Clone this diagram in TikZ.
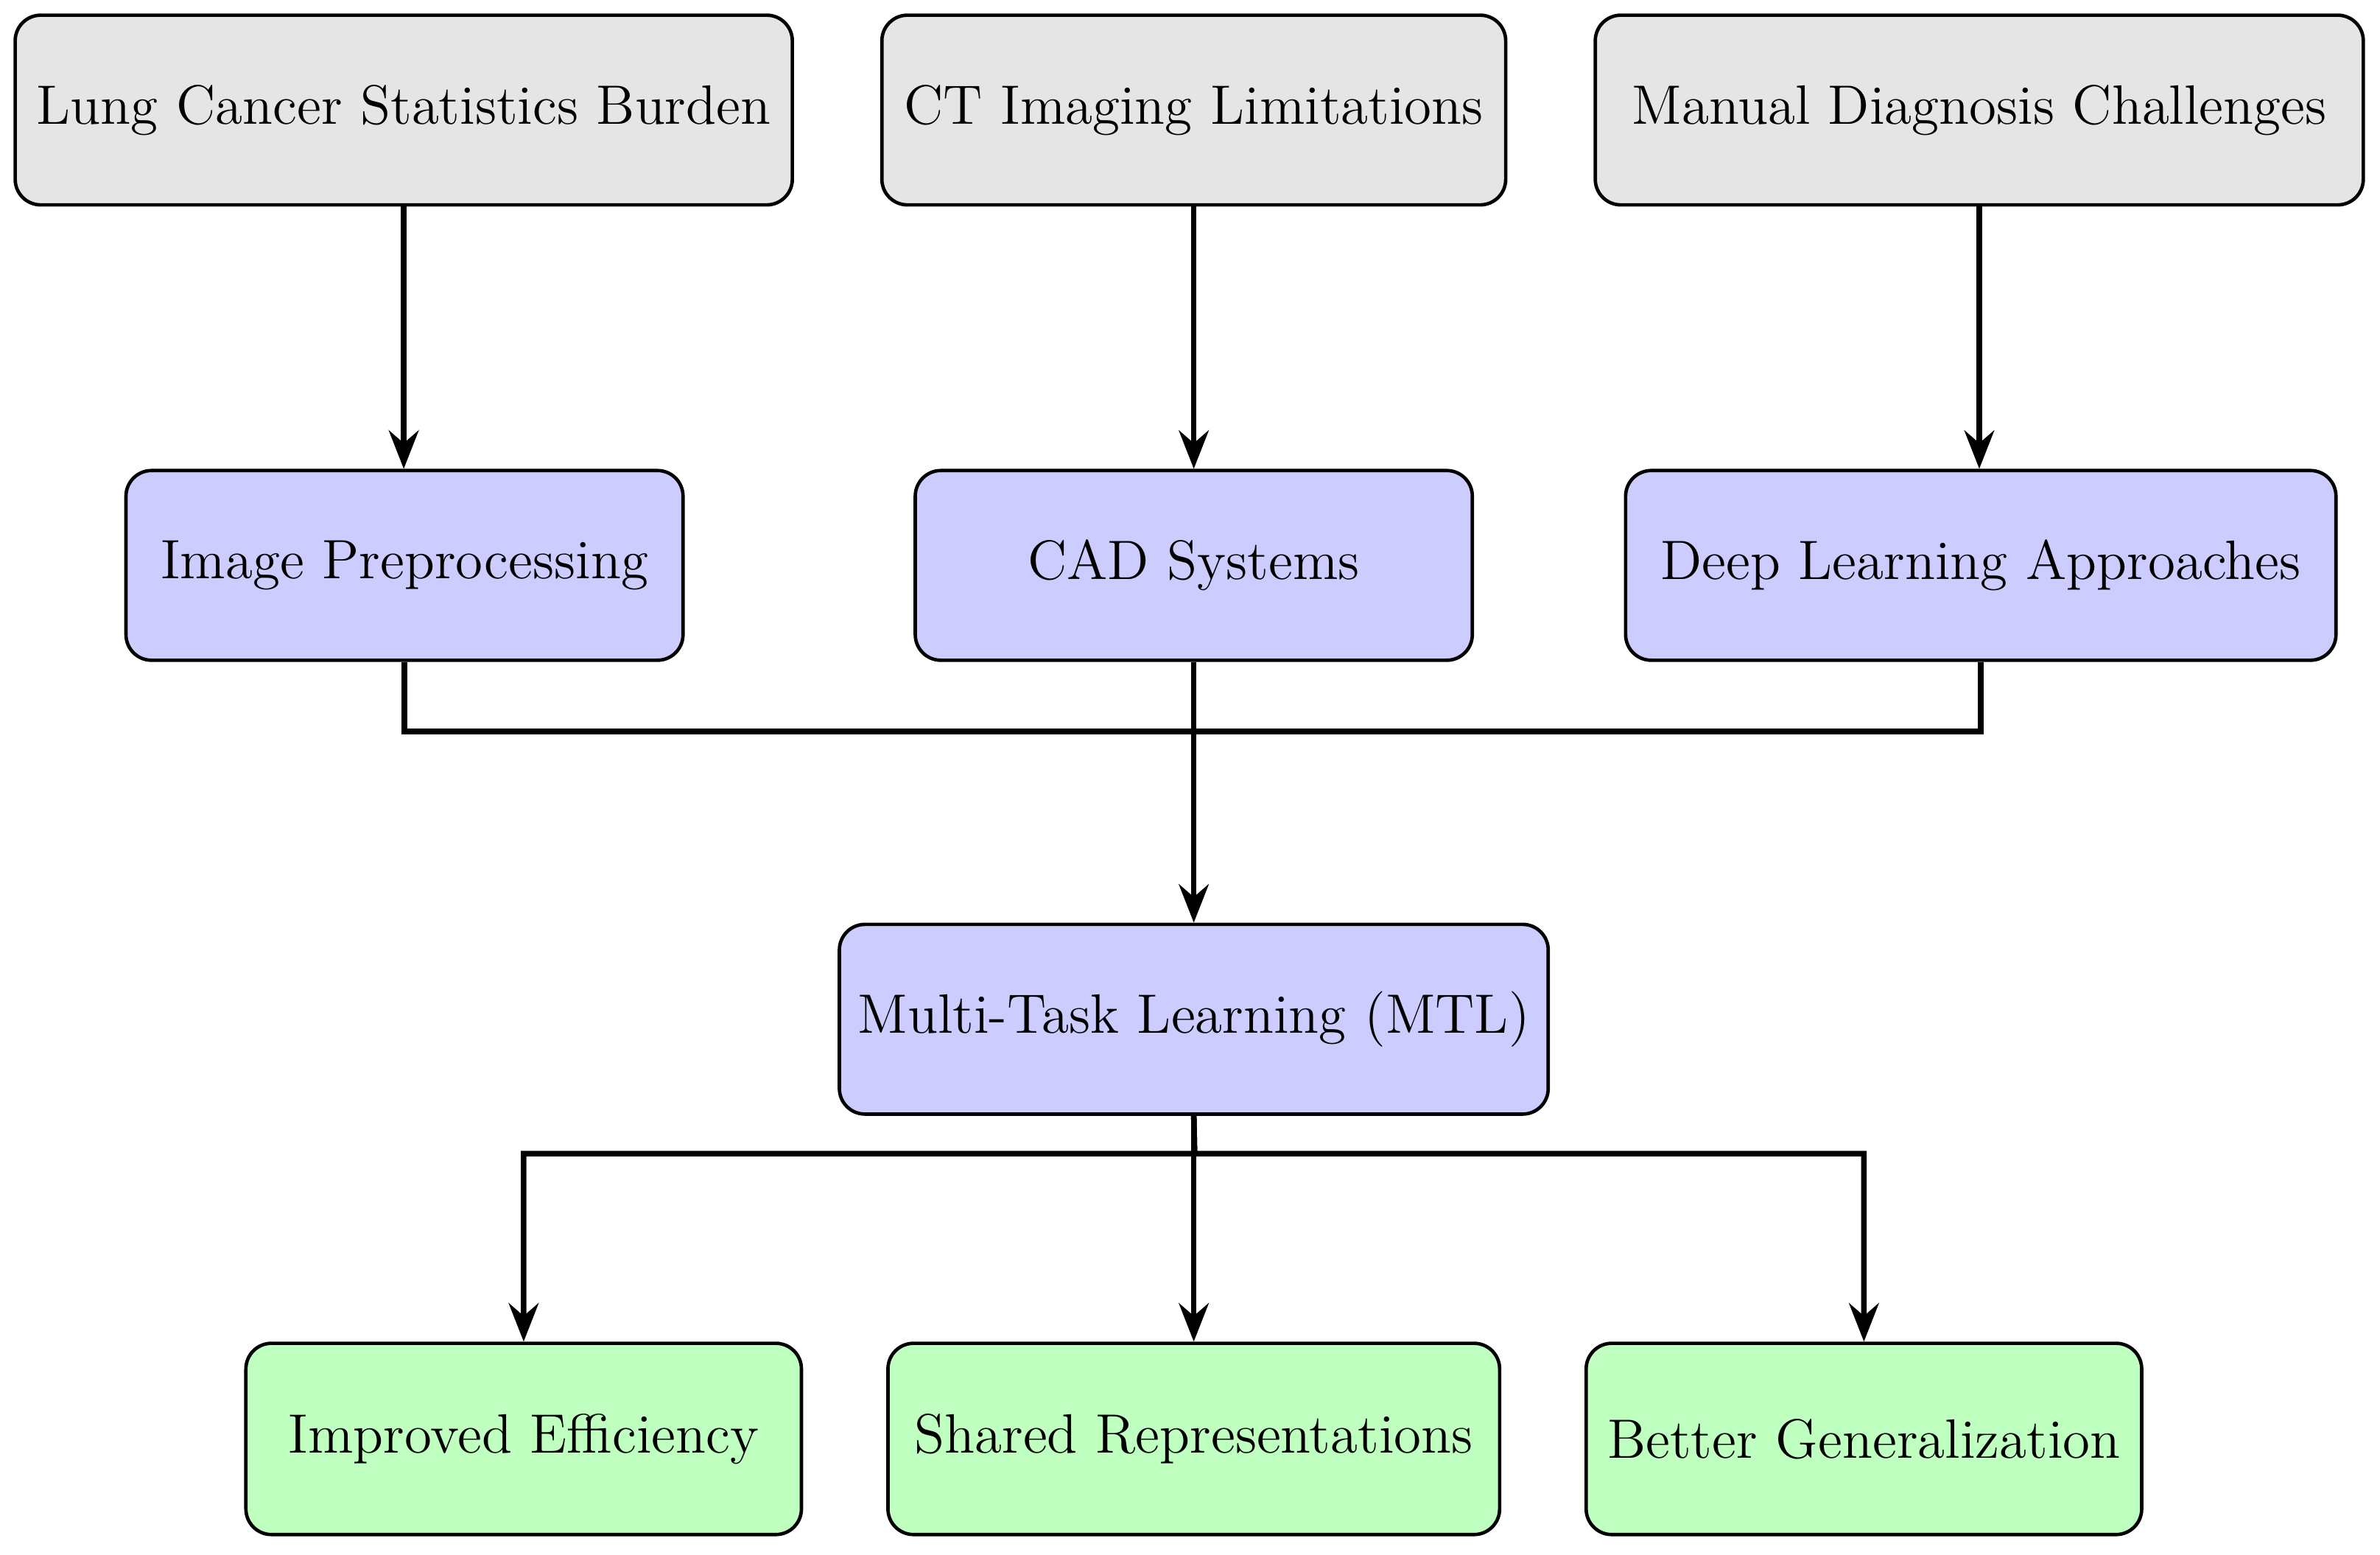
\documentclass[tikz,border=0pt]{standalone}
\usetikzlibrary{arrows.meta}
\begin{document}
\begin{tikzpicture}[x=0.0125cm,y=-0.0125cm,
 box/.style={draw,rounded corners=6pt,line width=0.8pt,inner sep=0pt,font=\fontsize{13}{15}\selectfont},
 gray/.style={box,fill=gray!20},
 blue/.style={box,fill=blue!20},
 green/.style={box,fill=green!25},
 arr/.style={line width=1.3pt,-{Stealth[length=9pt,width=7pt,inset=3pt]}},
 ln/.style={line width=1.3pt}]
\useasboundingbox (0,0) rectangle (1568,1024);
\newcommand\bx[6]{\node[#1,minimum width={(#4-#3)*0.0125cm},minimum height={(#6-#5)*0.0125cm}] (#2) at ({(#3+#4)/2},{(#5+#6)/2}) {};}
\bx{gray}{a}{10}{522}{10}{135}\node[font=\fontsize{13}{15}\selectfont] at (a) {Lung Cancer Statistics Burden};
\bx{gray}{b}{581}{992}{10}{135}\node[font=\fontsize{13}{15}\selectfont] at (b) {CT Imaging Limitations};
\bx{gray}{c}{1051}{1557}{10}{135}\node[font=\fontsize{13}{15}\selectfont] at (c) {Manual Diagnosis Challenges};
\bx{blue}{d}{83}{450}{310}{435}\node[font=\fontsize{13}{15}\selectfont] at (d) {Image Preprocessing};
\bx{blue}{e}{603}{970}{310}{435}\node[font=\fontsize{13}{15}\selectfont] at (e) {CAD Systems};
\bx{blue}{f}{1071}{1539}{310}{435}\node[font=\fontsize{13}{15}\selectfont] at (f) {Deep Learning Approaches};
\bx{blue}{m}{553}{1020}{609}{734}\node[font=\fontsize{13}{15}\selectfont] at (m) {Multi-Task Learning (MTL)};
\bx{green}{g}{162}{528}{885}{1011}\node[font=\fontsize{13}{15}\selectfont] at (g) {Improved Efficiency};
\bx{green}{h}{585}{988}{885}{1011}\node[font=\fontsize{13}{15}\selectfont] at (h) {Shared Representations};
\bx{green}{i}{1045}{1411}{885}{1011}\node[font=\fontsize{13}{15}\selectfont] at (i) {Better Generalization};
\draw[arr] (a.south) -- (a.south|-d.north);
\draw[arr] (b.south) -- (e.north);
\draw[arr] (c.south) -- (c.south|-f.north);
\coordinate (j) at (787,482);
\draw[ln] (d.south) |- (j);
\draw[ln] (f.south) |- (j);
\draw[arr] (e.south) -- (m.north);
\coordinate (k) at (787,760);
\draw[arr] (m.south) -- (k) -| (g.north);
\draw[arr] (m.south) -- (h.north);
\draw[arr] (m.south) -- (k) -| (i.north);
\end{tikzpicture}
\end{document}
